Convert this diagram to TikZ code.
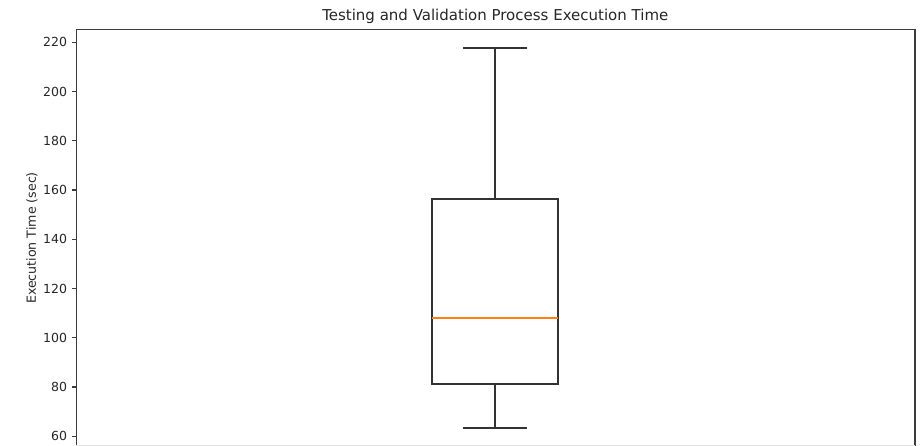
\documentclass[tikz,border=0pt]{standalone}
\usepackage{fontspec}
\setmainfont{DejaVu Sans}
\definecolor{spine}{RGB}{60,60,60}
\begin{document}
\begin{tikzpicture}[x=1pt,y=-1pt,
  spinestyle/.style={draw=spine,line width=1.4pt},
  boxline/.style={draw=black!80,line width=1.8pt},
  ticklbl/.style={anchor=east,inner sep=0pt,font=\fontsize{12.5}{14}\selectfont,text=black!85},
  tickmark/.style={draw=spine,line width=1.4pt}]
\useasboundingbox (0,0) rectangle (922,446);
% axes frame
\coordinate (tl) at (76.3,29.7);
\coordinate (tr) at (915,29.7);
\coordinate (bl) at (76.3,446);
\coordinate (br) at (915,446);
\draw[spinestyle] (bl) -- (tl) -- (tr) -- (br);
\draw[draw=black!10,line width=0.8pt] (76.3,445.5) -- (915,445.5);
% y ticks: value v at y = 42.3 + (220-v)*2.4625
\foreach \v in {60,80,...,220}{
  \pgfmathsetmacro{\yy}{42.3+(220-\v)*2.4625}
  \coordinate (t\v) at (76.3,\yy);
  \draw[tickmark] (t\v) -- ++(-4,0);
  \node[ticklbl] (l\v) at ([xshift=-9]t\v) {\v};
}
% box plot
\coordinate (q3l) at (432.3,199.3);
\coordinate (q3r) at (558.3,199.3);
\coordinate (q1l) at (432.3,384);
\coordinate (q1r) at (558.3,384);
\coordinate (medl) at (432.3,317.7);
\coordinate (medr) at (558.3,317.7);
\coordinate (topw) at (495.3,199.3);
\coordinate (botw) at (495.3,384);
\coordinate (topcap) at (495.3,48.3);
\coordinate (botcap) at (495.3,427.7);
\draw[boxline] (q1l) rectangle (q3r);
\draw[boxline] (topw) -- (topcap);
\draw[boxline] (botw) -- (botcap);
\draw[boxline] ([xshift=-32]topcap) -- ([xshift=32]topcap);
\draw[boxline] ([xshift=-32]botcap) -- ([xshift=32]botcap);
\draw[draw={rgb,255:red,255;green,127;blue,14},line width=1.9pt] (medl) -- (medr);
% title and label
\node[anchor=base,inner sep=0pt,font=\fontsize{15}{17}\selectfont,text=black!85] (title) at (495.3,20.5) {Testing and Validation Process Execution Time};
\node[rotate=90,inner sep=0pt,font=\fontsize{12.6}{14}\selectfont,text=black!85] (ylabel) at (32,238) {Execution Time (sec)};
\end{tikzpicture}
\end{document}
